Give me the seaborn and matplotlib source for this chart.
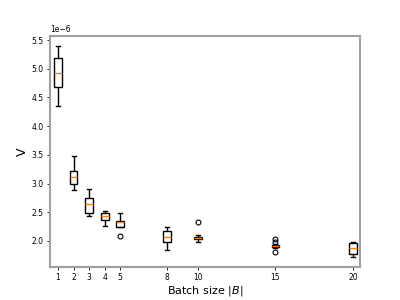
import matplotlib
matplotlib.use("Agg")
import matplotlib.pyplot as plt
import seaborn as sns
import pandas as pd

# Samples per batch size (units of 1e-6)
batch_sizes = [1, 2, 3, 4, 5, 8, 10, 15, 20]
v_b1 = [4.35, 4.55, 4.68, 4.80, 4.93, 5.05, 5.19, 5.30, 5.40]
v_b2 = [2.89, 2.95, 3.00, 3.06, 3.12, 3.17, 3.22, 3.35, 3.48]
v_b3 = [2.43, 2.46, 2.49, 2.57, 2.64, 2.70, 2.75, 2.83, 2.91]
v_b4 = [2.26, 2.32, 2.37, 2.40, 2.43, 2.45, 2.48, 2.51, 2.53]
v_b5 = [2.085, 2.24, 2.24, 2.30, 2.33, 2.335, 2.34, 2.42, 2.48]
v_b8 = [1.84, 1.92, 1.98, 2.03, 2.07, 2.12, 2.18, 2.21, 2.24]
v_b10 = [1.98, 2.01, 2.03, 2.04, 2.05, 2.06, 2.07, 2.10, 2.335]
v_b15 = [1.815, 1.885, 1.895, 1.90, 1.905, 1.908, 1.91, 1.915, 1.92, 1.93, 1.945, 1.98, 2.035]
v_b20 = [1.72, 1.75, 1.78, 1.83, 1.87, 1.92, 1.96, 1.98, 1.99]
samples = [v_b1, v_b2, v_b3, v_b4, v_b5, v_b8, v_b10, v_b15, v_b20]

rows = []
for b, vals in zip(batch_sizes, samples):
    for v in vals:
        rows.append({"batch": b, "V": v * 1e-6})
df = pd.DataFrame(rows)

fig, ax = plt.subplots(figsize=(4, 3), dpi=100)
sns.boxplot(data=df, x="batch", y="V", native_scale=True, ax=ax,
            width=0.5, linewidth=1.0, fliersize=3.5,
            boxprops={"facecolor": "white", "edgecolor": "black"},
            whiskerprops={"color": "black"},
            capprops={"color": "black"},
            medianprops={"color": "#ff7f0e", "linewidth": 1.0},
            flierprops={"marker": "o", "markerfacecolor": "none",
                        "markeredgecolor": "black", "markeredgewidth": 0.8})

ax.set_xlim(0.48, 20.45)
ax.set_ylim(1.547e-6, 5.57e-6)
ax.set_xticks(batch_sizes)
ax.set_xticklabels([str(b) for b in batch_sizes])
ax.set_yticks([2.0e-6, 2.5e-6, 3.0e-6, 3.5e-6, 4.0e-6, 4.5e-6, 5.0e-6, 5.5e-6])
ax.ticklabel_format(axis="y", style="sci", scilimits=(0, 0))
ax.tick_params(labelsize=5.5, length=2.5, width=0.6, pad=2, colors="black")
ax.yaxis.get_offset_text().set_fontsize(5.5)
for s in ax.spines.values():
    s.set_color("#a0a0a0")
    s.set_linewidth(1.5)
ax.set_xlabel("Batch size $|B|$", fontsize=8, labelpad=1)
ax.set_ylabel("V", fontsize=9, labelpad=2)
fig.subplots_adjust(left=0.125, right=0.9, top=0.88, bottom=0.11)
fig.savefig("out.png", dpi=100)
